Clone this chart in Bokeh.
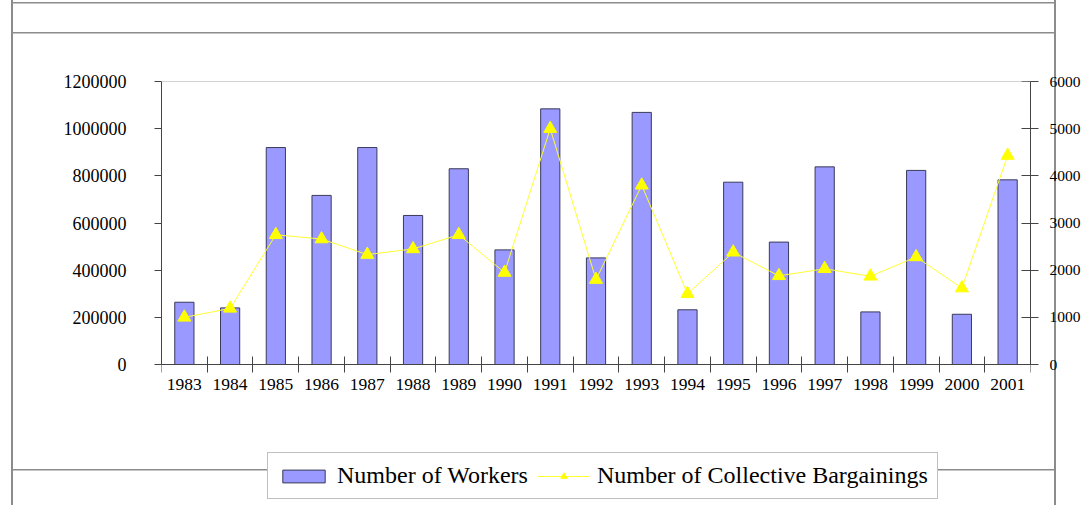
from bokeh.plotting import figure
from bokeh.models import (Range1d, LinearAxis, FixedTicker, Legend, LegendItem,
                          ColumnDataSource, Span)
from bokeh.embed import file_html
from bokeh.resources import INLINE

years = ["1983", "1984", "1985", "1986", "1987", "1988", "1989", "1990", "1991", "1992",
         "1993", "1994", "1995", "1996", "1997", "1998", "1999", "2000", "2001"]
workers = [264000, 240000, 920000, 717000, 920000, 632000, 830000, 486000, 1084000, 452000,
           1069000, 232000, 773000, 519000, 838000, 223000, 823000, 213000, 783000]
bargainings = [1000, 1190, 2750, 2660, 2330, 2450, 2750, 1950, 5000, 1800,
               3800, 1500, 2380, 1880, 2030, 1870, 2280, 1620, 4430]
left_ticks = [0, 200000, 400000, 600000, 800000, 1000000, 1200000]
right_ticks = [0, 1000, 2000, 3000, 4000, 5000, 6000]

n = len(years)
centers = [i + 0.5 for i in range(n)]
bounds = list(range(n + 1))

src = ColumnDataSource(dict(x=centers, w=workers, b=bargainings, year=years))

SERIF = "Liberation Serif"

# layout in pixels: plot area 283 px tall, with 141 px of room below the zero line
AREA_H = 283
BELOW_H = 141
LMAX, RMAX = left_ticks[-1], right_ticks[-1]
l_min = -LMAX * BELOW_H / AREA_H
r_min = -RMAX * BELOW_H / AREA_H

p = figure(frame_width=869, frame_height=AREA_H + BELOW_H, output_backend="svg",
           toolbar_location=None,
           x_range=Range1d(0, n), y_range=Range1d(l_min, LMAX),
           min_border_left=161, min_border_right=56, min_border_top=81, min_border_bottom=0,
           x_axis_location=None, y_axis_location=None)
p.extra_y_ranges = {"right": Range1d(r_min, RMAX)}
p.xgrid.visible = False
p.ygrid.visible = False
p.outline_line_color = None
p.background_fill_alpha = 0
p.border_fill_alpha = 0

# decorative page frame lines (behind the transparent canvas)
g = "linear-gradient(#8c8c8c,#8c8c8c)"
p.styles = {
    "background": (
        f"{g} 11px 0px / 2px 100% no-repeat, "
        f"{g} 1054px 0px / 2px 100% no-repeat, "
        f"{g} 12px 2px / 1043px 1.5px no-repeat, "
        f"{g} 12px 32px / 1043px 1.5px no-repeat, "
        f"{g} 12px 468.5px / 1043px 1.5px no-repeat, "
        "white"
    )
}

# top edge of the plot area
p.add_layout(Span(location=LMAX, dimension="width", line_color="#a8a8a8", line_width=1))

bars = p.vbar(x="x", top="w", width=0.42, source=src, fill_color="#9999ff",
              line_color="#3a3a5a", line_width=1)
ln = p.line(x="x", y="b", source=src, y_range_name="right", line_color="#ffff33", line_width=1)
tri = p.scatter(x="x", y="b", source=src, y_range_name="right", marker="triangle",
                size=13, fill_color="#ffff00", line_color="#ffff00")

# x axis (sits on the zero line)
xa = LinearAxis(ticker=FixedTicker(ticks=centers, minor_ticks=bounds), fixed_location=0)
xa.major_label_overrides = {c: y for c, y in zip(centers, years)}
xa.major_tick_out = 0
xa.major_tick_in = 0
xa.minor_tick_in = 8
xa.minor_tick_out = 8
xa.minor_tick_line_color = "#444444"
xa.axis_line_color = "#444444"
xa.major_label_text_font = SERIF
xa.major_label_text_font_size = "17.5px"
xa.major_label_text_color = "black"
xa.major_label_standoff = 6
p.add_layout(xa, "below")

# left axis
ya = LinearAxis(ticker=FixedTicker(ticks=left_ticks, minor_ticks=[]), bounds=(0, LMAX))
ya.major_label_overrides = {t: str(t) for t in left_ticks}
ya.major_tick_out = 7
ya.major_tick_in = 0
ya.major_tick_line_color = "#444444"
ya.axis_line_color = "#444444"
ya.minor_tick_line_color = None
ya.major_label_text_font = SERIF
ya.major_label_text_font_size = "18px"
ya.major_label_text_color = "black"
ya.major_label_standoff = 28
p.add_layout(ya, "left")

# right axis
ra = LinearAxis(y_range_name="right", ticker=FixedTicker(ticks=right_ticks, minor_ticks=[]),
                bounds=(0, RMAX))
ra.major_label_overrides = {t: str(t) for t in right_ticks}
ra.major_tick_out = 8
ra.major_tick_in = 9
ra.major_tick_line_color = "#444444"
ra.axis_line_color = "#444444"
ra.minor_tick_line_color = None
ra.major_label_text_font = SERIF
ra.major_label_text_font_size = "15.5px"
ra.major_label_text_color = "black"
ra.major_label_standoff = 11
p.add_layout(ra, "right")

legend = Legend(items=[LegendItem(label="Number of Workers", renderers=[bars]),
                       LegendItem(label="Number of Collective Bargainings", renderers=[ln, tri])],
                orientation="horizontal", location=(106, 6),
                label_text_font=SERIF, label_text_font_size="24px", label_text_color="black",
                glyph_width=53, glyph_height=16, label_standoff=7, spacing=9, padding=9,
                margin=0, border_line_color="#808080", border_line_width=1.5,
                background_fill_color="white", background_fill_alpha=1)
p.add_layout(legend)

open("out.html", "w").write(file_html(p, INLINE))
